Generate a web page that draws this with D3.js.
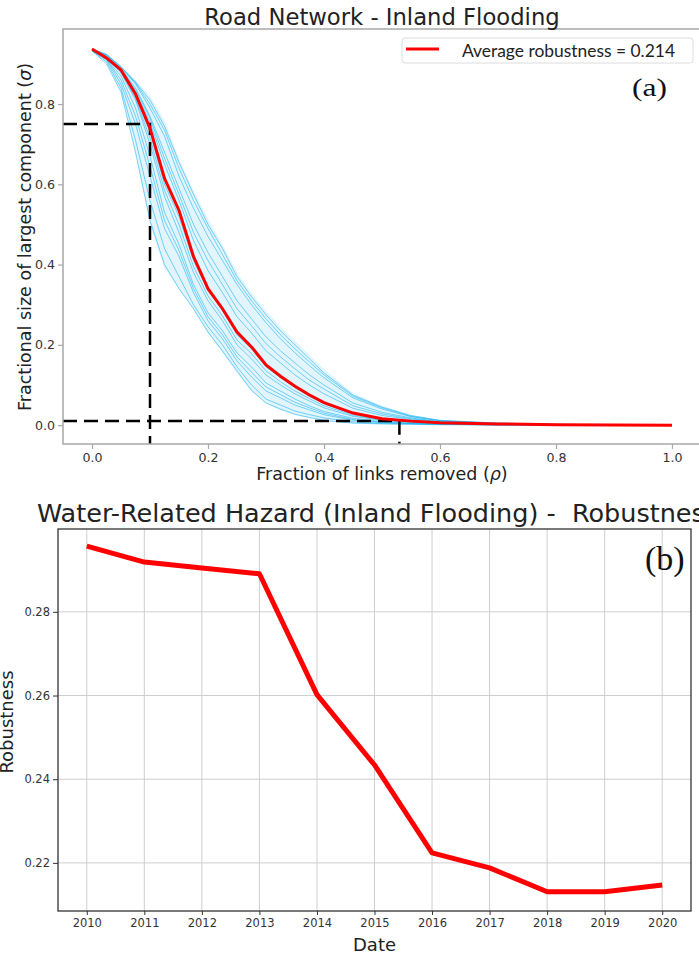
<!DOCTYPE html>
<html>
<head>
<meta charset="utf-8">
<script src="https://cdn.jsdelivr.net/npm/d3@7"></script>
<style>
    body { margin: 0; background: white; }
    #chart { width: 699px; height: 955px; overflow: hidden; }
    text { font-family: "DejaVu Sans", sans-serif; }
</style>
</head>
<body>
<div id="chart"></div>
<script>
// panel (a): fraction of links removed vs fractional size of largest component
const rhoGrid = [0, .025, .05, .075, .1, .125, .15, .175, .2, .225, .25, .275, .3, .325, .35, .375, .4, .45, .5, .55, .6, .7, .8, 1.0];
const meanSigma = [.937, .915, .885, .825, .74, .615, .535, .42, .34, .29, .232, .195, .15, .122, .097, .075, .056, .03, .016, .01, .006, .003, .001, 0];
const bandUpper = [.937, .925, .895, .86, .82, .76, .665, .585, .515, .45, .38, .33, .285, .245, .21, .175, .14, .08, .048, .025, .013, .005, .002, 0];
const bandLower = [.93, .905, .83, .68, .5, .39, .34, .287, .228, .18, .13, .083, .054, .037, .025, .018, .01, .005, .003, .002, .001, 0, 0, 0];
const runs = [
    [.937, .924, .893, .855, .81, .745, .655, .575, .5, .44, .37, .32, .275, .235, .2, .165, .13, .075, .045, .024, .012, .005, .002, 0],
    [.937, .922, .89, .85, .79, .72, .62, .54, .47, .41, .35, .3, .255, .215, .18, .148, .118, .068, .04, .021, .011, .004, .002, 0],
    [.936, .92, .888, .84, .77, .68, .59, .5, .43, .37, .31, .265, .22, .185, .155, .125, .1, .055, .032, .018, .009, .004, .001, 0],
    [.936, .918, .885, .83, .755, .65, .56, .46, .385, .33, .27, .23, .185, .155, .125, .1, .078, .042, .024, .014, .008, .003, .001, 0],
    [.935, .916, .882, .82, .73, .6, .52, .41, .335, .285, .225, .19, .145, .118, .093, .072, .053, .028, .015, .009, .005, .002, .001, 0],
    [.935, .914, .878, .81, .7, .57, .48, .38, .31, .26, .2, .165, .125, .1, .078, .06, .043, .022, .012, .007, .004, .002, .001, 0],
    [.934, .912, .87, .79, .67, .53, .45, .35, .28, .235, .18, .145, .105, .085, .065, .048, .034, .017, .009, .005, .003, .001, 0, 0],
    [.934, .91, .85, .75, .62, .49, .42, .33, .26, .215, .16, .12, .085, .068, .05, .038, .026, .012, .006, .004, .002, .001, 0, 0],
    [.933, .905, .84, .71, .56, .44, .37, .3, .245, .2, .145, .1, .065, .05, .035, .026, .018, .008, .004, .003, .002, .001, 0, 0],
    [.933, .9, .83, .68, .51, .4, .34, .29, .232, .185, .135, .087, .055, .04, .027, .019, .012, .005, .003, .002, .001, 0, 0, 0],
    [.937, .923, .892, .853, .8, .735, .64, .56, .49, .425, .36, .31, .265, .225, .19, .157, .125, .072, .043, .022, .011, .005, .002, 0],
    [.936, .919, .887, .835, .765, .665, .575, .48, .41, .35, .29, .248, .203, .17, .14, .112, .09, .048, .028, .016, .008, .003, .001, 0],
    [.935, .915, .88, .815, .715, .585, .5, .395, .322, .272, .212, .178, .135, .108, .085, .066, .048, .025, .013, .008, .005, .002, .001, 0],
    [.934, .911, .86, .77, .645, .51, .435, .34, .27, .225, .17, .132, .095, .076, .057, .043, .03, .014, .007, .004, .002, .001, 0, 0]
];
const guideRho = [0.1, 0.53];
const guideSigma = [0.75, 0.01];
const curveXTicks = [0, 0.2, 0.4, 0.6, 0.8, 1.0];
const curveYTicks = [0, 0.2, 0.4, 0.6, 0.8];

// panel (b): robustness per year
const years = [2010, 2011, 2012, 2013, 2014, 2015, 2016, 2017, 2018, 2019, 2020];
const robustness = [0.2957, 0.2919, 0.2905, 0.2891, 0.2602, 0.2434, 0.2224, 0.2188, 0.2131, 0.2131, 0.2147];
const trendYTicks = [0.22, 0.24, 0.26, 0.28];

const serif = "'Liberation Serif', 'Times New Roman', Tinos, serif";

const svg = d3.select("#chart")
    .append("svg")
    .attr("width", 699)
    .attr("height", 955)
    .attr("viewBox", "0 0 699 955")
    .style("background-color", "white");

function drawCurvePanel() {
    let x = d3.scaleLinear().domain([-0.05, 1.05]).range([63, 701]);
    let y = d3.scaleLinear().domain([-0.047, 0.987]).range([444, 29]);
    let g = svg.append("g").attr("class", "curve-panel");

    // spread of the simulation runs
    let band = d3.area()
        .x((d, i) => x(rhoGrid[i]))
        .y0((d, i) => y(bandLower[i]))
        .y1((d, i) => y(bandUpper[i]));
    g.append("path")
        .datum(bandUpper)
        .attr("d", band)
        .attr("fill", "#8ad8f7")
        .attr("opacity", 0.25);

    let line = d3.line()
        .x((d, i) => x(rhoGrid[i]))
        .y(d => y(d));

    g.append("g").attr("class", "runs")
        .selectAll("path")
        .data(runs)
        .enter()
        .append("path")
            .attr("d", line)
            .attr("fill", "none")
            .attr("stroke", "#10aef0")
            .attr("stroke-opacity", 0.55)
            .attr("stroke-width", 1);

    // dashed guide lines
    for (let i = 0; i < guideRho.length; i++) {
        g.append("path")
            .attr("d", "M" + x(-0.05) + "," + y(guideSigma[i]) + "H" + x(guideRho[i]) + "V" + y(-0.047))
            .attr("fill", "none")
            .attr("stroke", "black")
            .attr("stroke-width", 2.5)
            .attr("stroke-dasharray", "14,7");
    }

    g.append("path")
        .datum(meanSigma)
        .attr("d", line)
        .attr("fill", "none")
        .attr("stroke", "red")
        .attr("stroke-width", 3);

    g.append("rect")
        .attr("x", 63).attr("y", 29)
        .attr("width", 638).attr("height", 415)
        .attr("fill", "none")
        .attr("stroke", "#a8a8a8")
        .attr("stroke-width", 1.5);

    let xAxis = g.append("g")
        .attr("transform", "translate(0,444)")
        .call(d3.axisBottom(x).tickValues(curveXTicks).tickFormat(d3.format(".1f")).tickSize(5).tickPadding(4));
    let yAxis = g.append("g")
        .attr("transform", "translate(63,0)")
        .call(d3.axisLeft(y).tickValues(curveYTicks).tickFormat(d3.format(".1f")).tickSize(5).tickPadding(3));
    [xAxis, yAxis].forEach(a => {
        a.select(".domain").remove();
        a.selectAll("line").attr("stroke", "#a8a8a8").attr("stroke-width", 1.2);
        a.selectAll("text").attr("fill", "#333").style("font-size", "12.6px").style("font-family", "DejaVu Sans");
    });

    g.append("text")
        .attr("x", 382).attr("y", 25)
        .attr("text-anchor", "middle")
        .style("font-size", "22.7px")
        .attr("fill", "#222")
        .text("Road Network - Inland Flooding");

    let xl = g.append("text")
        .attr("x", 382).attr("y", 480)
        .attr("text-anchor", "middle")
        .style("font-size", "17.5px")
        .attr("fill", "#222");
    xl.append("tspan").text("Fraction of links removed (");
    xl.append("tspan").style("font-style", "italic").text("ρ");
    xl.append("tspan").text(")");

    let yl = g.append("text")
        .attr("transform", "translate(31,237) rotate(-90)")
        .attr("text-anchor", "middle")
        .style("font-size", "17.5px")
        .attr("fill", "#222");
    yl.append("tspan").text("Fractional size of largest component (");
    yl.append("tspan").style("font-style", "italic").text("σ");
    yl.append("tspan").text(")");

    // legend
    g.append("rect")
        .attr("x", 402).attr("y", 38)
        .attr("width", 291).attr("height", 25)
        .attr("rx", 3)
        .attr("fill", "white")
        .attr("stroke", "#dcdcdc");
    g.append("line")
        .attr("x1", 406).attr("x2", 439)
        .attr("y1", 49).attr("y2", 49)
        .attr("stroke", "red")
        .attr("stroke-width", 3);
    g.append("text")
        .attr("x", 462).attr("y", 57)
        .attr("textLength", 213)
        .attr("lengthAdjust", "spacingAndGlyphs")
        .style("font-family", "Lato, sans-serif")
        .style("font-size", "17px")
        .attr("fill", "#222")
        .text("Average robustness = 0.214");

    g.append("text")
        .attr("x", 632).attr("y", 96)
        .attr("textLength", 35)
        .attr("lengthAdjust", "spacingAndGlyphs")
        .style("font-family", serif)
        .style("font-size", "25px")
        .attr("fill", "#111")
        .text("(a)");
}

function drawTrendPanel() {
    let x = d3.scaleLinear().domain([2009.5, 2020.5]).range([58, 691]);
    let y = d3.scaleLinear().domain([0.2085, 0.2998]).range([911, 529]);
    let g = svg.append("g").attr("class", "trend-panel");

    let grid = g.append("g").attr("class", "grid");
    grid.selectAll("line.vx")
        .data(years)
        .enter()
        .append("line")
            .attr("x1", d => x(d)).attr("x2", d => x(d))
            .attr("y1", 529).attr("y2", 911)
            .attr("stroke", "#cfcfcf");
    grid.selectAll("line.hy")
        .data(trendYTicks)
        .enter()
        .append("line")
            .attr("x1", 58).attr("x2", 691)
            .attr("y1", d => y(d)).attr("y2", d => y(d))
            .attr("stroke", "#cfcfcf");

    g.append("path")
        .datum(robustness)
        .attr("d", d3.line().x((d, i) => x(years[i])).y(d => y(d)))
        .attr("fill", "none")
        .attr("stroke", "red")
        .attr("stroke-width", 5)
        .attr("stroke-linejoin", "round");

    g.append("rect")
        .attr("x", 58).attr("y", 529)
        .attr("width", 633).attr("height", 382)
        .attr("fill", "none")
        .attr("stroke", "#333")
        .attr("stroke-width", 1.3);

    let xAxis = g.append("g")
        .attr("transform", "translate(0,911)")
        .call(d3.axisBottom(x).tickValues(years).tickFormat(d3.format("d")).tickSize(4).tickPadding(4));
    let yAxis = g.append("g")
        .attr("transform", "translate(58,0)")
        .call(d3.axisLeft(y).tickValues(trendYTicks).tickFormat(d3.format(".2f")).tickSize(5).tickPadding(3));
    [xAxis, yAxis].forEach(a => {
        a.select(".domain").remove();
        a.selectAll("line").attr("stroke", "#333");
        a.selectAll("text").attr("fill", "#333").style("font-size", "11.5px").style("font-family", "DejaVu Sans");
    });

    // title runs past the right edge, as in the source figure
    g.append("text")
        .attr("x", 37).attr("y", 522)
        .style("white-space", "pre")
        .style("font-size", "25.5px")
        .attr("fill", "#222")
        .text("Water-Related Hazard (Inland Flooding) -  Robustness");

    g.append("text")
        .attr("x", 374.5).attr("y", 951)
        .attr("text-anchor", "middle")
        .style("font-size", "18px")
        .attr("fill", "#222")
        .text("Date");

    g.append("text")
        .attr("transform", "translate(13,722) rotate(-90)")
        .attr("text-anchor", "middle")
        .style("font-size", "18px")
        .attr("fill", "#222")
        .text("Robustness");

    g.append("text")
        .attr("x", 645).attr("y", 570)
        .style("font-family", serif)
        .style("font-size", "34px")
        .attr("fill", "#111")
        .text("(b)");
}

drawCurvePanel();
drawTrendPanel();
</script>
</body>
</html>
